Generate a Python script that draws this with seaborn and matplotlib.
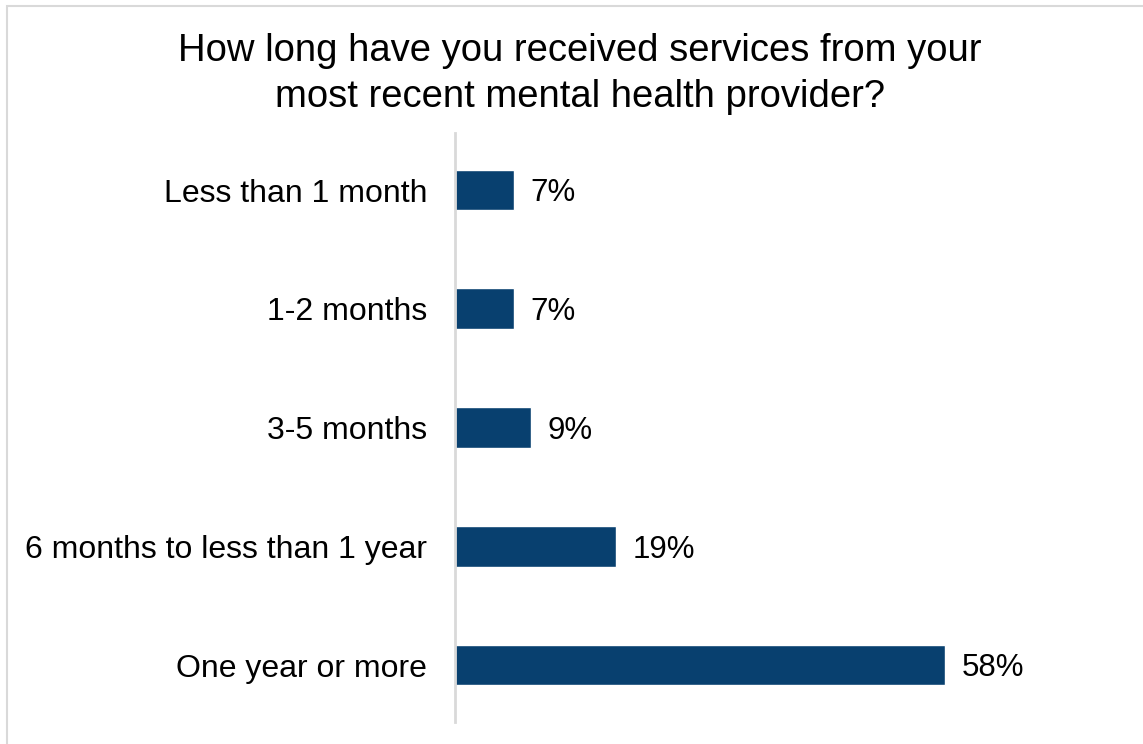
import matplotlib
matplotlib.use("Agg")
import matplotlib.pyplot as plt
import seaborn as sns
import pandas as pd
from matplotlib.patches import Rectangle

categories = ["Less than 1 month", "1-2 months", "3-5 months",
              "6 months to less than 1 year", "One year or more"]
percent = [7, 7, 9, 19, 58]
labels = ["7%", "7%", "9%", "19%", "58%"]
title = "How long have you received services from your\nmost recent mental health provider?"

df = pd.DataFrame({"category": categories, "percent": percent})

sns.set_theme(style="white")
plt.rcParams["font.family"] = ["Liberation Sans", "DejaVu Sans"]

W, H = 1143, 744
fig = plt.figure(figsize=(W / 100, H / 100), dpi=100)
ax_left, ax_right, ax_top, ax_bottom = 455, 1131, 133, 722
ax = fig.add_axes([ax_left / W, 1 - ax_bottom / H,
                   (ax_right - ax_left) / W, (ax_bottom - ax_top) / H])

sns.barplot(data=df, x="percent", y="category", order=categories,
            color="#08406F", saturation=1, width=0.345, ax=ax)

ax.set_xlim(0, (ax_right - ax_left) / 8.45)
ax.set_ylim(4.48, -0.48)
ax.set_xlabel("")
ax.set_ylabel("")
ax.set_xticks([])
ax.tick_params(axis="y", length=0, pad=20, labelsize=23, labelcolor="#000000")
for s in ["top", "right", "bottom"]:
    ax.spines[s].set_visible(False)
ax.spines["left"].set_color("#D9D9D9")
ax.spines["left"].set_linewidth(2)

texts = ax.bar_label(ax.containers[0], labels=labels, padding=12,
                     fontsize=22.5, color="#000000")
for t in texts:
    t.xyann = (12, -2.5)

fig.text(580 / W, 1 - 74 / H, title, ha="center", va="center",
         fontsize=27.5, color="#000000", linespacing=1.38)

# light frame around the chart area
fig.patches.append(Rectangle((7 / W, -0.1), 1.2, 1 - 6 / H + 0.1,
                             transform=fig.transFigure, fill=False,
                             edgecolor="#D9D9D9", linewidth=1.5))

fig.savefig("out.png", dpi=100)
